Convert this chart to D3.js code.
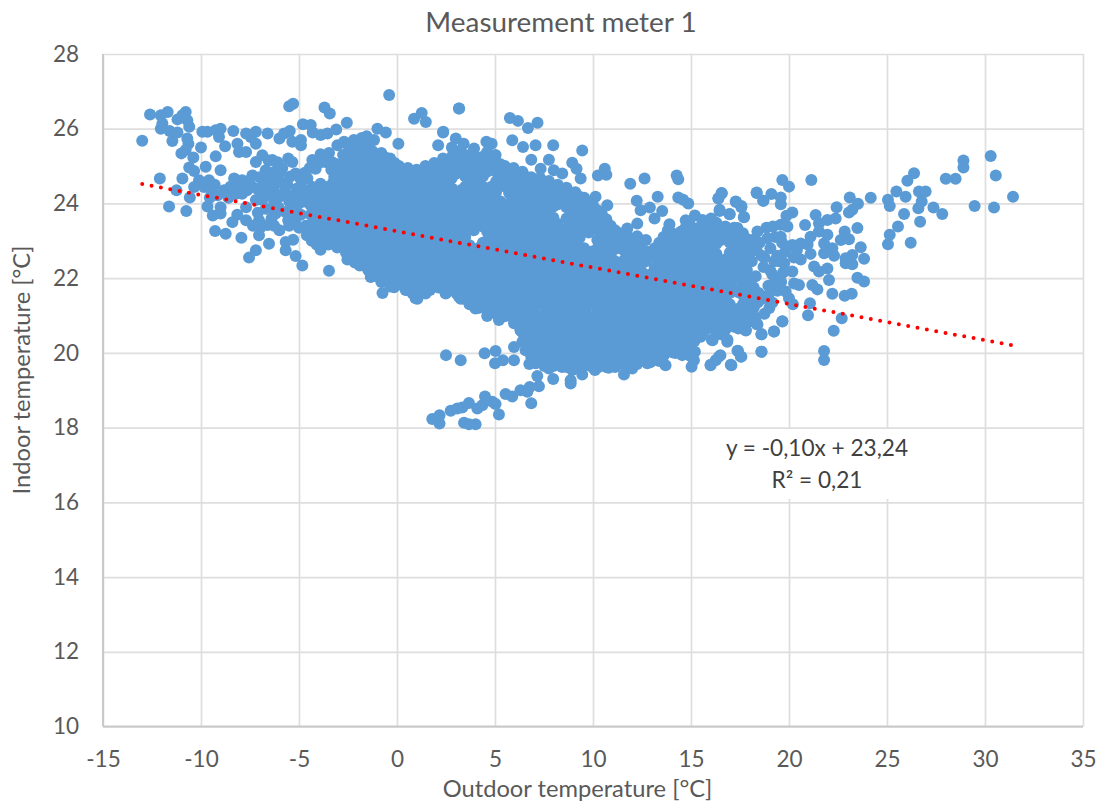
<!DOCTYPE html>
<html><head><meta charset="utf-8">
<script src="https://cdn.jsdelivr.net/npm/d3@7"></script>
<style>
html,body{margin:0;background:#fff}
svg{display:block}
text{font-family:Lato,"Open Sans",sans-serif}
</style></head><body>
<div id="chart"></div>
<script>
const chartTitle = "Measurement meter 1";
const xTitle = "Outdoor temperature [°C]";
const yTitle = "Indoor temperature [°C]";
const xTicks = [-15,-10,-5,0,5,10,15,20,25,30,35];
const yTicks = [10,12,14,16,18,20,22,24,26,28];
const trendX = [-13, 31.33];
const trendY = [24.52, 20.21];

// Sparse readings, [outdoor, indoor]
const coldCluster = [[-13,25.68],[-12.6,26.38],[-11.7,26.45],[-12.05,26.36],[-11.97,26.14],[-12.05,26],[-11.6,25.94],[-11.2,25.9],[-11.46,25.67],[-10.78,26.45],[-10.95,26.36],[-11.2,26.25],[-10.7,26.23],[-10.6,26.05],[-10.7,25.74],[-10.64,25.6],[-10.78,25.43],[-11,25.34],[-10.39,25.23],[-10.6,24.96],[-10.35,24.87],[-10,25.5],[-9.93,25.92],[-9.67,25.92],[-9.25,25.96],[-9,26],[-9.08,25.78],[-8.77,25.53],[-8.35,25.94],[-8.14,25.6],[-8.06,25.38],[-7.7,25.38],[-7.7,25.87],[-7.2,25.92],[-7.2,25.6],[-7.46,25.78],[-6.6,25.87],[-6,25.74],[-5.76,25.87],[-5.47,25.94],[-5.34,25.65],[-4.9,25.7],[-4.9,25.56],[-5.5,26.6],[-5.3,26.67],[-4.8,26.12],[-4.4,26.1],[-4.3,25.9],[-3.9,25.83],[-3.55,25.87],[-3.1,25.98],[-2.56,26.16],[-3.7,26.57],[-3.43,26.41],[-0.4,26.9],[-1,26],[-0.57,25.9],[0.87,26.27],[1.26,26.42],[1.47,26.18],[3.17,26.54],[2.35,25.9],[2.1,25.56],[0.07,25.6],[-1.17,25.7],[-2.7,25.65],[-3.04,25.56],
[-12.1,24.67],[-10.95,24.67],[-11.25,24.35],[-11.63,23.92],[-10.75,23.8],[-10.57,24.16],[-9.67,23.92],[-9.4,23.68],[-9,23.73],[-9.28,23.26],[-8.74,23.19],[-8.4,23.5],[-7.94,23.08],[-7.7,23.55],[-7.04,23.55],[-6.95,23.37],[-7.04,23.15],[-7.2,22.75],[-7.55,22.55],[-6.53,22.92],[-6.27,23.4],[-6,23.28],[-5.5,23.4],[-5.68,22.97],[-5.3,23.03],[-5.68,22.75],[-5.17,22.59],[-4.83,22.34],[-3.47,22.2],[-3.9,22.76],[-2.53,22.5],[-1.9,22.34],[-1.34,22.03],[-0.74,21.6],[-0.15,21.76],[0.53,21.68],[1.04,21.45],[1.47,21.63],[2.5,21.6],[3.42,21.45],
[-9.76,24.98],[-9.25,25.26],[-9,24.89],[-9.59,24.62],[-10.1,24.62],[-9.84,24.44],[-8.82,24.35],[-9.16,24.22],[-10.35,24.44],[-8.31,24.67],[-7.9,24.62],[-7.9,24.26],[-8.06,24.44],[-7.38,24.75],[-7.7,23.9],[-6.87,25.29],[-6.36,25.16],[-7.2,25.11],[-6.7,24.89],[-6,24.8],[-5.34,25.11],[-5.17,24.8],[-6.19,24.62],[-6.78,24.49],[-6.44,24.26],[-6.87,24.09],[-7.2,24.09],[-6.7,23.86],[-6,24.18],[-5.34,24.22],[-5,24],[-5.68,23.77],[-6.19,23.73],[-6.27,24.04],[-4.32,25.16],[-3.9,25.32],[-3.47,25.35],[-4.15,24.93],[-3.64,25.11],[-4.57,24.67],[-3.9,24.53],[-3.2,24.71],[-2.87,24.8],[-4.3,24.44],[-4.83,24.4],[-9,23.9],[-9.3,24.5],[-8.6,24.15],[-7.55,24.6],[-7,24.7],[-6.55,24.6],[-5.6,24.5],[-5.1,24.4],[-5.5,24.05],[-4.7,24.05],[-4.9,23.7],[-5.2,23.55],[-4.65,23.4]];

const coldInfill = [[-9.45,24.35],[-9.55,24.15],[-8.5,24.45],[-8.25,24.25],[-7.65,24.35],[-7.4,24.45],[-7.15,24.4],[-6.95,24.3],[-6.5,24.75],[-6.25,24.85],[-5.85,24.55],[-5.75,24.3],[-5.45,24.72],[-4.95,24.68],[-4.7,24.82],[-4.45,24.95],[-4.85,24.18],[-5.25,23.82],[-5.55,23.55],[-5,23.35],[-6.4,23.6],[-6.6,23.42],[-7.35,23.4],[-7.1,23.75],[-8.15,23.7],[-6.05,23.9],[-6.55,25.15],[-6.1,25.1],[-5.85,24.95],[-5.55,25.2],[-6.3,24.4],[-6.75,24.2],[-4.6,24.25],[-3.35,24.9],[-3.05,25.05],[-2.75,25.3],[-2.45,25.5],[-2.2,25.7],[-2.05,25.6],[-1.8,25.75],[-1.55,25.8],[-3.3,25.1],[-3.9,25.1],[-4.6,23.15],[-4.35,23],[-4.1,22.9]];

const upperEdge = [[3.16,26.54],[2.36,25.92],[3,25.74],[3.4,25.6],[3.93,25.47],[4.56,25.65],[4.83,25.6],[5.03,25.3],[5.76,26.29],[6.17,26.21],[6.68,26.02],[7.17,26.16],[5.88,25.69],[6.43,25.51],[7.07,25.56],[7.97,25.56],[9.45,25.42],[6.85,25.17],[7.75,25.17],[7.33,24.93],[8,24.89],[8.43,24.8],[8.94,25.09],[9.16,24.93],[9.37,24.67],[10.25,24.75],[10.6,24.93],[10.68,24.77],[10.13,24.18],[10.73,23.95],[11.9,24.53],[12.63,24.67],[14.27,24.75],[14.35,24.65],[13.3,24.18],[14.35,24.16],[14.6,24.1],[14.86,24],[12.23,24.07],[12.43,23.82],[12.9,23.89],[13.14,23.6],[13.53,23.8],[16.4,24.13],[16.56,24.28],[17.3,24.04],[17.57,23.9],[18.35,24.28],[18.7,24.07],[16.46,23.8],[16.97,23.71],[17.7,23.64],[15.2,23.68],[14.73,23.55],[16.03,23.6],[13.9,23.44],[12.26,23.46],[11.75,23.33]];

const lowBranch = [[2.5,19.94],[3.25,19.8],[4.47,19.99],[5.03,20.05],[5,19.72],[5.4,19.8],[5.97,19.8],[5.97,20.16],[7.16,19.38],[7.97,19.3],[8.86,19.18],[8.86,19.27],[9.45,19.42],[11.58,19.42],[7.24,19.11],[6.77,19.09],[6.3,19],[6.65,18.96],[5.88,18.83],[5.54,18.9],[6.85,18.65],[4.49,18.83],[4.86,18.69],[5.03,18.63],[5.2,18.35],[3.67,18.66],[3.33,18.54],[3.08,18.51],[2.74,18.45],[4.1,18.51],[4.35,18.6],[1.8,18.23],[2.17,18.33],[2.17,18.11],[3.42,18.13],[3.67,18.09],[4.01,18.09],
[6.75,19.7],[7.75,19.58],[8.94,19.54],[10.1,19.54],[10.8,19.6],[12,19.58],[12.77,19.72],[13.7,19.67],[15.03,19.63],[15.2,20.03],[15.15,19.8],[16,19.67],[16.26,19.8],[16.5,19.94],[17.06,19.67],[17.4,20.05],[17.57,19.9],[18.6,20.03],[18.35,20.77],[18.6,20.5],[19.23,20.57],[19.66,20.85],[17.8,20.6],[16.85,20.3],[16.1,20.34],[15.5,20.43],[14.55,19.94],[14.2,20],[0.44,21.68],[0.95,21.46],[1.46,21.59],[2.48,21.59],[4,21.19],[4.6,20.99],[5.2,20.88],[5.97,20.79],[6.3,20.6],[6.73,20.3],[6.56,20.07],[3.16,21.5]];

const warmCluster = [[30.29,25.27],[28.9,25.15],[28.9,24.96],[30.55,24.75],[31.43,24.18],[30.46,23.89],[29.47,23.93],[28,24.66],[28.5,24.66],[26.38,24.81],[26.04,24.61],[25.48,24.32],[25.95,24.18],[26.63,24.32],[26.97,24.32],[26.77,24.05],[26.6,23.87],[27.37,23.89],[27.82,23.72],[25.87,23.72],[26.69,23.51],[25.56,23.38],[25.14,23.16],[25.05,22.91],[26.21,22.95],[25.05,24.1],[25.14,23.93],[24.17,24.15],[23.1,24.16],[23.52,23.99],[23.23,23.83],[23.06,23.76],[22.43,23.9],[22.38,23.6],[21.96,23.56],[21.36,23.69],[21.14,24.63],[19.66,24.63],[20,24.45],[18.35,24.29],[18.68,24.07],[19.1,24.25],[19.58,24.16],[19.58,23.98],[20.17,23.76],[19.87,23.67],[20.82,23.42],[19.18,23.38],[19.58,23.43],[23.49,23.34],[22.84,23.25],[21.53,23.47],[21.53,23.25],[21.96,23.16],[21.1,23.11],[22.64,23.02],[23.06,23.04],[23.66,22.83],[21.79,22.93],[22.21,22.8],[23.83,22.52],[23.23,22.62],[22.89,22.53],[23.23,22.37],[22.89,22.4],[21.1,22.65],[21.79,22.67],[22.3,22.6],[21.28,22.31],[21.96,22.26],[21.53,22.18],[22.04,21.95],[23.49,22.01],[23.83,21.91],[21.19,21.82],[21.45,21.7],[22.21,21.58],[22.84,21.53],[23.2,21.58],[21.07,21.33],[20.97,21.01],[22.69,20.93],[22.28,20.59],[21.79,20.05],[21.79,19.81],[20.26,21.86],[20.51,21.82],[20.17,22.18],[19.75,22.4],[19.41,21.66],[19.83,21.64],[20,21.46],[19.15,21.35],[19.66,20.84],[19.24,20.57],[18.59,20.5],[18.39,20.76],[18.59,20.03],[17.37,20.06],[17.54,19.9],[17.03,19.68],[16.43,19.9],[16,19.68],[17.79,20.61],[16.86,20.35],[16.06,20.35],[16.57,24.27],[16.4,24.14],[17.28,24.05],[17.57,23.93],[16.46,23.83],[16.97,23.72],[17.7,23.63],[16,23.56],[15.58,23.56],[17.37,23.34],[18.39,23.25],[18.9,23.07],[19.58,23.11],[19.92,23.38],[20.17,22.89],[20.6,22.93],[18.5,22.95],[19.05,22.8],[19.65,22.95],[20.25,22.55],[20.6,22.5],[19.05,22.2],[18.7,22.3],[18.3,22.05],[19.5,22.45],[18.1,22.45],[18.6,22.6],[19.3,21.95],[18.2,21.75],[18.65,21.45],[18.2,21.2],[18.75,21.05],[19.4,22.6],[20.2,21.3],
[18.85,23.35],[19.3,23.1],[18.25,23.05],[18.75,22.55],[19.25,22.45],[19.8,22.7],[18.35,22.75],[18.95,21.8],[18.45,21.6],[19.7,22.15],[19.15,22.1],[20.4,22.75],[18.4,21.35],[18.3,20.95],[19,21.2],[18.95,21.55],[19.6,21.9],[20.95,22.9]];

// Dense body of the cloud: first number of a row is outdoor, the others are indoor readings
const denseRows = [
[-4.4,24.2,23.95,23.7,23.42,23.2],
[-3.95,24.35,24.1,23.82,23.58,23.3,23.05],
[-3.5,24.45,24.2,23.95,23.7,23.45,23.18,22.9],
[-3.05,24.7,24.42,24.15,23.9,23.62,23.35,23.1,22.82],
[-2.6,25.1,24.85,24.58,24.3,24.05,23.78,23.5,23.25,22.98,22.68],
[-2.15,25.35,25.08,24.8,24.55,24.28,24,23.72,23.45,23.2,22.92,22.65,22.42],
[-1.7,25.55,25.3,25.02,24.75,24.5,24.22,23.95,23.68,23.42,23.15,22.9,22.62,22.35],
[-1.25,25.4,25.15,24.88,24.62,24.35,24.08,23.8,23.55,23.28,23,22.75,22.48,22.2],
[-0.8,25.35,25.1,24.82,24.55,24.28,24.02,23.75,23.48,23.2,22.95,22.68,22.4,22.12,21.9],
[-0.35,25.2,24.95,24.68,24.42,24.15,23.88,23.6,23.35,23.08,22.82,22.55,22.28,22.02,21.78],
[0.1,25,24.78,24.5,24.25,23.98,23.72,23.45,23.18,22.92,22.65,22.4,22.12,21.88],
[0.55,24.95,24.65,24.38,24.1,23.85,23.58,23.3,23.05,22.78,22.52,22.25,22,21.78],
[1,24.9,24.62,24.35,24.05,23.8,23.52,23.25,22.98,22.72,22.45,22.2,21.92,21.65],
[1.45,25,24.72,24.45,24.2,23.92,23.65,23.38,23.12,22.85,22.6,22.32,22.05,21.8],
[1.9,25.08,24.8,24.52,24.25,24,23.72,23.45,23.2,22.92,22.65,22.4,22.12,21.85],
[2.35,25.2,24.9,24.62,24.38,24.1,23.85,23.58,23.3,23.05,22.78,22.5,22.25,21.98,21.72],
[2.8,25.5,25.25,24.95,24.68,24.4,24.15,23.88,23.62,23.35,23.1,22.82,22.55,22.28,22,21.72],
[3.25,25.42,25.15,24.88,24.35,24.05,23.8,23.52,23.25,23,22.72,22.45,22.2,21.92,21.65,21.45],
[3.7,25.3,25.02,24.75,24.48,24.2,23.95,23.68,23.4,22.88,22.6,22.35,22.08,21.8,21.55,21.3],
[4.15,25.22,24.95,24.68,24.42,24.15,23.88,23.6,22.8,22.52,22.25,22,21.72,21.45,21.2],
[4.6,25.38,25.1,24.85,24.35,24.05,23.8,23.52,23.25,23,22.72,22.45,22.2,21.92,21.65,21.4,21.15],
[5.05,25.12,24.85,24.58,24.3,23.98,23.72,23.45,23.18,22.92,22.65,22.38,22.1,21.85,21.58,21.3,21.05],
[5.5,25,24.72,24.45,23.9,23.62,23.35,23.1,22.82,22.55,22.28,22,21.75,21.48,21.2,20.98],
[5.95,24.95,24.65,24.4,24.12,23.85,23.58,23.32,23.05,22.78,22.5,22.25,21.98,21.7,21.42,21.18,20.92],
[6.4,24.85,24.58,24.3,24.05,23.78,23.5,23.22,22.95,22.7,22.42,22.15,21.88,21.62,21.35,21.1,20.82,20.55,20.3],
[6.85,24.7,24.42,24.15,23.88,23.6,23.35,23.08,22.8,22.55,22.28,22,21.75,21.48,21.2,20.92,20.68,20.4,20.15,19.9],
[7.3,24.68,24.35,24.1,23.82,23.55,23.28,23,22.75,22.48,22.2,21.95,21.68,21.4,20.85,20.6,20.32,20.05,19.78],
[7.75,24.6,24.32,24.05,23.78,23.5,23.25,22.98,22.7,22.45,22.18,21.9,21.65,21.38,21.1,20.85,20.58,20.3,20.05,19.78],
[8.2,24.5,24.25,23.98,23.45,23.18,22.9,22.65,22.38,22.1,21.85,21.58,21.3,21.05,20.78,20.5,20.25,19.98,19.72],
[8.65,24.42,24.15,23.9,23.6,23.32,23.05,22.8,22.52,22.25,22,21.72,21.45,21.18,20.92,20.65,20.38,20.1,19.85,19.62],
[9.1,24.3,24.02,23.75,23.5,23.22,22.95,22.68,22.42,22.15,21.88,21.6,21.35,21.08,20.8,20.55,20.28,20,19.75],
[9.55,24.15,23.88,23.6,23.35,22.8,22.55,22.28,22,21.75,21.48,21.2,20.95,20.68,20.4,20.15,19.88,19.65],
[10,23.95,23.7,23.42,22.72,22.45,22.18,21.9,21.65,20.9,20.62,20.35,20.1,19.82,19.6],
[10.45,23.72,23.45,23.2,22.9,22.62,22.35,22.1,21.82,21.55,21.3,21.02,20.75,20.5,20.22,19.95,19.7],
[10.9,23.4,23.12,22.85,22.6,22.32,22.05,21.78,21.5,21.25,20.98,20.7,20.42,20.18,19.9,19.68],
[11.35,23.2,22.95,22.35,22.08,21.82,21.55,21.28,21.02,20.75,20.48,20.2,19.95,19.7],
[11.8,23.1,22.82,22.52,22.25,22,21.72,21.45,21.18,20.92,20.65,20.38,20.1,19.85,19.65],
[12.25,23.12,22.85,22.58,22.3,22.05,21.78,21.5,21.25,20.98,20.7,20.42,20.18,19.9,19.7],
[12.7,23.02,22.72,22.45,21.92,21.65,21.38,21.1,20.85,20.58,20.3,20.05,19.8],
[13.15,22.8,22.55,22.28,22,21.75,21.48,21.2,20.95,20.68,20.42,20.15,19.88],
[13.6,23.1,22.85,22.58,22.3,22.05,21.78,21.5,21.25,20.98,20.72,20.45,20.18,19.92],
[14.05,23.2,22.95,22.68,22.4,22.15,21.88,21.62,21.35,21.08,20.82,20.55,20.28,20.02],
[14.5,23.25,23,22.72,22.45,22.18,21.92,21.65,21.4,21.12,20.85,20.6,20.32,20.08],
[14.95,23.42,23.15,22.9,22.62,22.35,22.08,21.82,21.55,21.3,21.02,20.75,20.48,20.2,19.92],
[15.4,23.35,23.08,22.82,22.55,22.28,22,21.75,21.48,21.2,20.95,20.68,20.45],
[15.85,23.35,23.05,22.78,22.5,22.25,21.98,21.7,21.45,21.18,20.9,20.65],
[16.3,23.48,23.2,22.92,22.65,22.38,22.1,21.85,21.58,21.3,21.05,20.78,20.55],
[16.75,23.38,23.1,22.5,22.22,21.95,21.7,21.42,21.15,20.88,20.62],
[17.2,23.35,23.08,22.8,22.52,22.25,22,21.72,20.95,20.7],
[17.65,23.2,22.92,22.65,22.38,22.1,21.85,21.55,21.3,21.02,20.78],
[18.05,23,22.72,21.85,21.55,21.3,21,20.85]
];

const infillRows = [
[-4.15,24.08,23.8,23.5,23.2],
[-3.72,24.3,23.98,23.68,23.35,23.02],
[-3.27,24.55,24.28,24.02,23.78,23.5,23.22,22.95],
[-2.82,24.95,24.6,24.28,24,23.7,23.42,23.12,22.85],
[-2.37,25.2,24.95,24.68,24.42,24.15,23.85,23.58,23.32,23.05,22.78,22.52],
[-1.92,25.45,25.18,24.9,24.65,24.38,24.1,23.82,23.55,23.3,23.02,22.78,22.5],
[-1.47,25.48,25.2,24.9,24.62,24.35,24.08,23.82,23.55,23.3,23.02,22.78,22.48,22.22],
[-1.02,25.28,25.02,24.75,24.48,24.2,23.95,23.68,23.42,23.15,22.88,22.6,22.32,22.05],
[-0.57,25.22,24.95,24.68,24.42,24.15,23.88,23.62,23.35,23.08,22.8,22.52,22.25,22],
[-0.12,25.08,24.82,24.55,24.28,24.02,23.75,23.48,23.22,22.95,22.68,22.42,22.15,21.9],
[0.33,24.88,24.62,24.35,24.1,23.85,23.58,23.32,23.05,22.78,22.52,22.25,22,21.8],
[0.78,24.78,24.5,24.22,23.95,23.68,23.42,23.15,22.88,22.62,22.35,22.08,21.85,21.6],
[1.22,24.78,24.5,24.22,23.92,23.65,23.38,23.12,22.85,22.58,22.32,22.05,21.78],
[1.68,24.88,24.6,24.32,24.05,23.78,23.52,23.25,22.98,22.72,22.48,22.2,21.92,21.68],
[2.12,24.95,24.65,24.38,24.12,23.85,23.58,23.32,23.05,22.78,22.52,22.25,22,21.75],
[2.58,25.05,24.78,24.5,24.25,23.98,23.72,23.45,23.2,22.92,22.65,22.38,22.1,21.85],
[3.02,25.3,25.05,24.8,24.25,24,23.75,23.48,23.2,22.95,22.68,22.4,22.12,21.85,21.6],
[3.48,25.28,25,24.72,24.45,24.18,23.92,23.65,23.38,23.1,22.85,22.58,22.3,22.05,21.78,21.5],
[3.92,25.15,24.88,24.6,24.32,24.05,23.8,23.52,23.28,22.72,22.48,22.2,21.95,21.68,21.42],
[4.38,25.25,24.98,24.72,24.45,24.18,23.92,23.65,23.38,22.95,22.65,22.38,22.1,21.85,21.58,21.32],
[4.82,25.22,24.95,24.45,24.15,23.88,23.6,23.32,23.05,22.78,22.52,22.25,21.98,21.72,21.45,21.2],
[5.28,25.05,24.8,24.52,24.05,23.78,23.5,23.25,22.98,22.72,22.45,22.18,21.92,21.65,21.38,21.12],
[5.72,24.88,24.55,24.28,24,23.72,23.48,23.2,22.95,22.65,22.38,22.12,21.85,21.58,21.32,21.05],
[6.18,24.75,24.5,24.22,23.95,23.68,23.42,23.15,22.88,22.6,22.35,22.08,21.82,21.55,21.28,21.02,20.75],
[6.62,24.7,24.45,24.18,23.92,23.65,23.38,23.1,22.85,22.58,22.32,22.05,21.78,21.52,21.25,21,20.72,20.48,20.2],
[7.08,24.55,24.28,24,23.72,23.45,23.2,22.92,22.65,22.4,22.12,21.85,21.6,21.32,21.05,20.78,20.5,20.25,19.98,19.72],
[7.52,24.48,24.2,23.92,23.65,23.4,23.12,22.85,22.6,22.32,22.05,21.8,21.52,21.25,21,20.72,20.45,20.18,19.9,19.65],
[7.98,24.45,24.18,23.92,23.62,23.35,23.1,22.82,22.55,22.3,22.02,21.78,21.5,21.22,20.98,20.7,20.42,20.18,19.9,19.65],
[8.42,24.35,24.08,23.28,23.02,22.78,22.5,22.22,21.98,21.7,21.42,21.18,20.9,20.65,20.38,20.1,19.85,19.62],
[8.88,24.28,24,23.72,23.45,23.18,22.9,22.62,22.38,22.1,21.85,21.58,21.3,21.02,20.78,20.5,20.22,19.98,19.72],
[9.32,24.18,23.9,23.62,23.38,23.08,22.82,22.55,22.28,22.02,21.75,21.5,21.22,20.95,20.7,20.42,20.15,19.9,19.62],
[9.78,24,23.75,23.48,23.22,22.6,22.32,22.08,21.8,21.52,21.28,21,20.75,20.48,20.22,19.95,19.68],
[10.22,23.82,23.55,23.3,23.02,22.78,22.5,22.25,21.98,21.7,21.45,21.18,20.62,20.35,20.08,19.82,19.6],
[10.68,23.58,23.3,23.02,22.75,22.48,22.2,21.95,21.68,21.42,21.15,20.88,20.6,20.35,20.08,19.82,19.62],
[11.12,23.28,23.02,22.78,22.45,22.2,21.95,21.68,21.4,21.15,20.88,20.6,20.35,20.08,19.82,19.62],
[11.58,23.05,22.75,22.48,22.2,21.95,21.68,21.42,21.15,20.88,20.62,20.35,20.08,19.8],
[12.02,23.02,22.72,22.42,22.15,21.88,21.62,21.35,21.1,20.82,20.55,20.3,20.02,19.78],
[12.48,23,22.72,22.45,22.18,21.9,21.65,21.38,21.12,20.85,20.6,20.32,20.05,19.8],
[12.92,22.62,22.1,21.85,21.58,21.3,21.05,20.78,20.5,20.25,19.98,19.75],
[13.38,22.95,22.68,22.42,22.15,21.88,21.62,21.35,21.08,20.82,20.55,20.3,20.02,19.78],
[13.82,23.28,23,22.72,22.45,22.18,21.92,21.65,21.4,21.12,20.85,20.6,20.32,20.05],
[14.28,23.1,22.82,22.55,22.3,22.02,21.75,21.5,21.22,20.95,20.7,20.42,20.18],
[14.72,23.35,23.08,22.8,22.55,22.28,22,21.75,21.48,21.22,20.95,20.68,20.42,20.15],
[15.18,23.25,22.98,22.72,22.45,22.18,21.92,21.65,21.38,21.12,20.85,20.6,20.32],
[15.62,23.22,22.95,22.65,22.4,22.12,21.85,21.6,21.32,21.05,20.8,20.55],
[16.08,23.32,23.05,22.8,22.52,22.25,22,21.72,21.48,21.2,20.92,20.68],
[16.52,23.28,23.02,22.38,22.1,21.82,21.55,21.28,21,20.75,20.5],
[16.98,23.22,22.95,22.68,22.42,22.15,21.85,21.6,21.3,21.05,20.8],
[17.42,23.18,22.9,22.62,22.35,22.08,21.62,21.18,20.88,20.65],
[17.85,23.05,22.78,22.5,22.22,21.95,21.7,21.42,21.15,20.92]
];

const flatten = rows => rows.flatMap(r => r.slice(1).map(v => [r[0], v]));
const readings = [...flatten(denseRows), ...flatten(infillRows), ...coldCluster, ...coldInfill, ...upperEdge, ...lowBranch, ...warmCluster];

const W = 1099, H = 802;
const x = d3.scaleLinear().domain([-15,35]).range([103,1083]);
const y = d3.scaleLinear().domain([10,28]).range([726.5,54]);

const svg = d3.select("#chart").append("svg").attr("width",W).attr("height",H);

// Grid and axes
const gx = svg.append("g").attr("transform","translate(0,726.5)")
  .call(d3.axisBottom(x).tickValues(xTicks).tickFormat(d=>d).tickSize(-(726.5-54)).tickPadding(24.5));
const gy = svg.append("g").attr("transform","translate(103,0)")
  .call(d3.axisLeft(y).tickValues(yTicks).tickFormat(d=>d).tickSize(-(1083-103)).tickPadding(24));
[gx,gy].forEach(g=>{
  g.select(".domain").remove();
  g.selectAll("line").attr("stroke","#DEDEDE").attr("stroke-width",1.7);
  g.selectAll("text").attr("fill","#595959").style("font-size","22.5px").style("font-family","Lato,sans-serif");
});
svg.append("line").attr("x1",x(-15)).attr("x2",x(-15)).attr("y1",y(28)).attr("y2",y(10)).attr("stroke","#C9C9C9").attr("stroke-width",2);
svg.append("line").attr("x1",x(-15)).attr("x2",x(35)).attr("y1",y(10)).attr("y2",y(10)).attr("stroke","#C9C9C9").attr("stroke-width",2);

// Label background hides grid
svg.append("rect").attr("x",715).attr("y",429).attr("width",205).attr("height",70).attr("fill","#fff");

// Points
svg.append("g").attr("fill","#5B9BD5").selectAll("circle").data(readings).join("circle")
  .attr("cx",d=>x(d[0])).attr("cy",d=>y(d[1])).attr("r",6);

// Trendline
svg.append("line").attr("x1",x(trendX[0])).attr("y1",y(trendY[0])).attr("x2",x(trendX[1])).attr("y2",y(trendY[1]))
  .attr("stroke","#FF0000").attr("stroke-width",4).attr("stroke-linecap","round").attr("stroke-dasharray","0 9.5");

// Texts
svg.append("text").attr("x",561).attr("y",32).attr("text-anchor","middle").attr("fill","#595959").style("font-size","27.9px").text(chartTitle);
svg.append("text").attr("x",577.5).attr("y",796.5).attr("text-anchor","middle").attr("fill","#595959").style("font-size","23.7px").text(xTitle);
svg.append("text").attr("transform","translate(30,370) rotate(-90)").attr("text-anchor","middle").attr("fill","#595959").style("font-size","23.7px").text(yTitle);
svg.append("text").attr("x",817).attr("y",456).attr("text-anchor","middle").attr("fill","#404040").style("font-size","22.6px").text("y = -0,10x + 23,24");
svg.append("text").attr("x",817).attr("y",488).attr("text-anchor","middle").attr("fill","#404040").style("font-size","22.6px").text("R² = 0,21");
</script>
</body></html>
